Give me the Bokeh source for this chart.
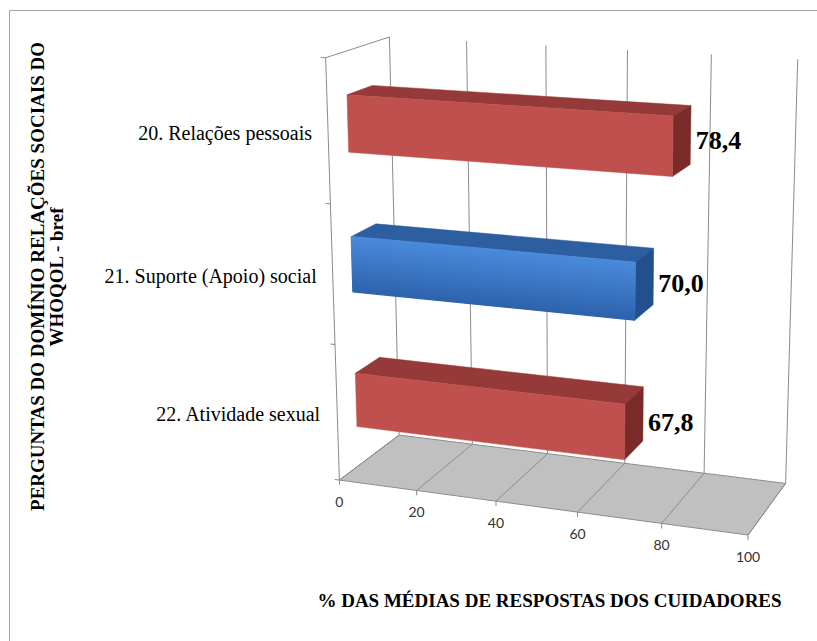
import numpy as np
from bokeh.plotting import figure
from bokeh.models import Range1d
from bokeh.embed import file_html
from bokeh.resources import INLINE
from bokeh.core.properties import value

# ---- data ----
categories = ["22. Atividade sexual", "21. Suporte (Apoio) social", "20. Relações pessoais"]
values = [67.8, 70.0, 78.4]
value_labels = ["67,8", "70,0", "78,4"]
ticks = [0, 20, 40, 60, 80, 100]
tick_labels = ["0", "20", "40", "60", "80", "100"]
x_title = "% DAS MÉDIAS DE RESPOSTAS DOS CUIDADORES"
y_title = ["PERGUNTAS DO DOMÍNIO RELAÇÕES SOCIAIS DO", "WHOQOL - bref"]

# ---- 3D view: perspective camera matrix (world: X = value, Y = floor->top 0..1, Z = front->back 0..1) ----
CAMERA = np.array([
    [3.5740819, -31.5635117, 85.0920381, 338.9272551],
    [0.1833526, -425.4652881, -17.2640688, 479.5829211],
    [-0.00068521579, -0.054715494, 0.063837719, 1.0],
])

W, H = 817, 641
SERIF = value("'Liberation Serif', 'Times New Roman', serif")
SANS = value("Lato, 'Open Sans', sans-serif")


def proj(X, Y, Z):
    w = CAMERA @ np.array([X, Y, Z, 1.0])
    return w[0] / w[2], H - w[1] / w[2]


def poly(pts):
    xs, ys = zip(*[proj(*q) for q in pts])
    return list(xs), list(ys)


p = figure(width=W, height=H, x_range=Range1d(0, W), y_range=Range1d(0, H),
           output_backend="svg", toolbar_location=None, min_border=0)
p.axis.visible = False
p.grid.visible = False
p.outline_line_color = None
p.background_fill_color = "white"

grid_col = "#8c8c8c"

# chart area border
p.quad(left=[9], right=[1000], top=[H - 10], bottom=[-500], fill_color=None,
       line_color="#a6a6a6", line_width=1)

# floor
fx, fy = poly([(0, 0, 0), (ticks[-1], 0, 0), (ticks[-1], 0, 1), (0, 0, 1)])
p.patch(fx, fy, fill_color="#c0c0c0", line_color=grid_col, line_width=1)

# gridlines on floor and back wall, side wall top edge, category axis line
gx, gy = [], []
for t in ticks:
    a = poly([(t, 0, 0), (t, 0, 1), (t, 1, 1)])
    gx.append(a[0]); gy.append(a[1])
a = poly([(0, 0, 0), (0, 1, 0), (0, 1, 1)])
gx.append(a[0]); gy.append(a[1])
p.multi_line(gx, gy, line_color=grid_col, line_width=1)

# tick marks
tx, ty = [], []
for t in ticks:
    a = poly([(t, 0, 0), (t, -0.012, 0)])
    tx.append(a[0]); ty.append(a[1])
for k in range(len(categories) + 1):
    a = poly([(-1.2, k / len(categories), 0), (0, k / len(categories), 0)])
    tx.append(a[0]); ty.append(a[1])
p.multi_line(tx, ty, line_color=grid_col, line_width=1)

red = dict(front="#c0504d", top="#953a38", side="#7a2b29")
blue = dict(front=("#4a8bdb", "#2e63ad"), top="#2d5e9f", side="#22508e")
styles = [red, blue, red]


def hex2rgb(h):
    return np.array([int(h[k:k + 2], 16) for k in (1, 3, 5)], float)


z0, z1 = 0.3, 0.7
band = 1 / len(categories)
for i, (val, st) in enumerate(zip(values, styles)):
    yc = (i + 0.5) * band
    y0, y1 = yc - 0.2 * band, yc + 0.2 * band
    # top face
    xs, ys = poly([(0, y1, z0), (val, y1, z0), (val, y1, z1), (0, y1, z1)])
    p.patch(xs, ys, fill_color=st["top"], line_color=st["top"], line_width=0.5)
    # end face
    xs, ys = poly([(val, y0, z0), (val, y1, z0), (val, y1, z1), (val, y0, z1)])
    p.patch(xs, ys, fill_color=st["side"], line_color=st["side"], line_width=0.5)
    # front face
    if isinstance(st["front"], tuple):
        c_top, c_bot = hex2rgb(st["front"][0]), hex2rgb(st["front"][1])
        n = 28
        sx, sy, sc = [], [], []
        for k in range(n):
            ya = y1 - (y1 - y0) * k / n
            yb = y1 - (y1 - y0) * (k + 1) / n
            xs, ys = poly([(0, yb, z0), (val, yb, z0), (val, ya, z0), (0, ya, z0)])
            c = c_top + (c_bot - c_top) * (k + 0.5) / n
            col = "#%02x%02x%02x" % tuple(int(round(q)) for q in c)
            sx.append(xs); sy.append(ys); sc.append(col)
        p.patches(sx, sy, fill_color=sc, line_color=sc, line_width=1.2)
    else:
        xs, ys = poly([(0, y0, z0), (val, y0, z0), (val, y1, z0), (0, y1, z0)])
        p.patch(xs, ys, fill_color=st["front"], line_color=st["front"], line_width=0.5)
    # value label
    lx, ly = proj(val, yc, 0.5)
    p.text([lx + 14], [ly], text=[value_labels[i]], text_font=SERIF,
           text_font_style="bold", text_font_size="26px", text_align="left",
           text_baseline="middle", text_color="black")
    # category label
    cx, cy = proj(0, yc, 0)
    p.text([cx - 16], [cy - 1], text=[categories[i]], text_font=SERIF,
           text_font_size="20px", text_align="right", text_baseline="middle", text_color="black")

# value tick labels
for t, lab in zip(ticks, tick_labels):
    x, y = proj(t, 0, 0)
    p.text([x], [y - 22], text=[lab], text_font=SANS, text_font_size="14px",
           text_align="center", text_baseline="middle", text_color="#333333")

# axis titles
p.text([549], [H - 600], text=[x_title], text_font=SERIF, text_font_style="bold",
       text_font_size="19px", text_align="center", text_baseline="middle", text_color="black")
p.text([37, 56], [H - 276, H - 276], text=y_title, text_font=SERIF,
       text_font_style="bold", text_font_size="19px", text_align="center", text_baseline="middle",
       text_color="black", angle=np.pi / 2)

open("out.html", "w").write(file_html(p, INLINE))
